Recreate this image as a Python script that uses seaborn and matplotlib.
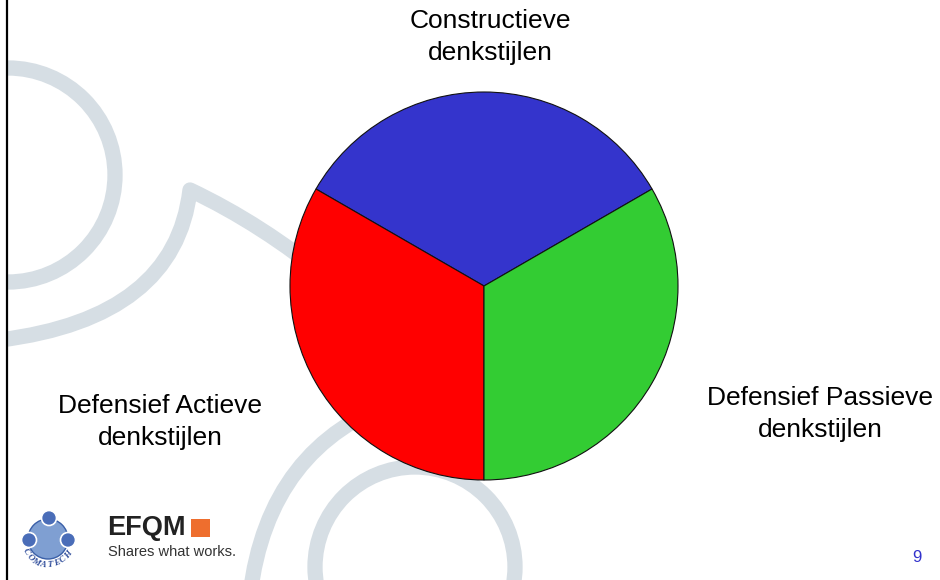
import numpy as np
import matplotlib
matplotlib.use("Agg")
import matplotlib.pyplot as plt
import seaborn as sns
from matplotlib.path import Path
from matplotlib.patches import PathPatch, Circle, Rectangle

# --- data ---
categories = ["Constructieve\ndenkstijlen",
              "Defensief Actieve\ndenkstijlen",
              "Defensief Passieve\ndenkstijlen"]
shares = [1, 1, 1]
slice_colors = ["#3434CC", "#FF0000", "#33CC33"]
page_number = "9"

sns.set_style("white")
plt.rcParams["font.family"] = ["Liberation Sans", "DejaVu Sans"]

W, H = 940, 580
GREY = "#D6DEE4"


def up(pts):
    # slide pixel coords (y down) -> axes coords (y up)
    return [(x, H - y) for x, y in pts]


fig = plt.figure(figsize=(9.4, 5.8), dpi=100)
ax = fig.add_axes([0, 0, 1, 1])

# --- background decoration (grey swirls), clipped right of the border ---
clip = Rectangle((8, 0), W, H, transform=ax.transData)
deco = dict(facecolor="none", edgecolor=GREY, linewidth=11,
            capstyle="round", joinstyle="round", zorder=0)
shapes = [
    Circle((8, H - 175), 107, **deco),
    Circle((415, H - 567), 100, **deco),
    PathPatch(Path(up([(0, 340), (175, 318), (190, 190), (262, 224), (330, 280)]),
                   [Path.MOVETO, Path.CURVE3, Path.CURVE3, Path.CURVE3, Path.CURVE3]),
              **deco),
    PathPatch(Path(up([(250, 595), (268, 445), (400, 400)]),
                   [Path.MOVETO, Path.CURVE3, Path.CURVE3]), **deco),
]
for p in shapes:
    ax.add_patch(p)
    p.set_clip_path(clip)

# --- pie ---
ax.pie(shares, colors=slice_colors, startangle=30, counterclock=True,
       center=(484, H - 286), radius=194,
       wedgeprops=dict(edgecolor="#111111", linewidth=0.8))
ax.set_xlim(0, W)
ax.set_ylim(0, H)
ax.set_aspect("equal")
ax.axis("off")

# category labels
label_pos = [(490, 37), (160, 422), (820, 414)]
for txt, (x, y) in zip(categories, label_pos):
    ax.text(x, H - y, txt, ha="center", va="center", fontsize=19,
            linespacing=1.42, color="black")

# left border
ax.plot([7, 7], [0, H], color="black", linewidth=1.6, solid_capstyle="butt")

# page number
ax.text(917, H - 558, page_number, ha="center", va="center",
        fontsize=12, color="#3333CC")

# --- COMATECH logo ---
ax.add_patch(Circle((48, H - 539), 20, facecolor="#7F9FD2",
                    edgecolor="#3A5FA8", linewidth=1.0, zorder=3))
for cx, cy in [(49, 518), (29, 540), (68, 540)]:
    ax.add_patch(Circle((cx, H - cy), 7.5, facecolor="#4A6DB8",
                        edgecolor="white", linewidth=1.2, zorder=4))
letters = "COMATECH"
angs = np.linspace(210, 322, len(letters))
for ch, a in zip(letters, angs):
    r = 26
    x = 48 + r * np.cos(np.radians(a))
    y = (H - 539) + r * np.sin(np.radians(a))
    ax.text(x, y, ch, fontsize=6.5, fontstyle="italic", fontweight="bold",
            family="Liberation Serif", color="#2E4C9A", ha="center",
            va="center", rotation=a + 90, zorder=5)

# --- EFQM logo ---
ax.text(107, H - 528, "EFQM", fontsize=19.5, fontweight="bold",
        color="#222222", ha="left", va="center")
ax.add_patch(Rectangle((191, H - 537), 19, 18, facecolor="#EE6E2E",
                       edgecolor="none", zorder=3))
ax.text(108, H - 552, "Shares what works.", fontsize=10.5, color="#333333",
        ha="left", va="center")

fig.savefig("out.png", dpi=100)
